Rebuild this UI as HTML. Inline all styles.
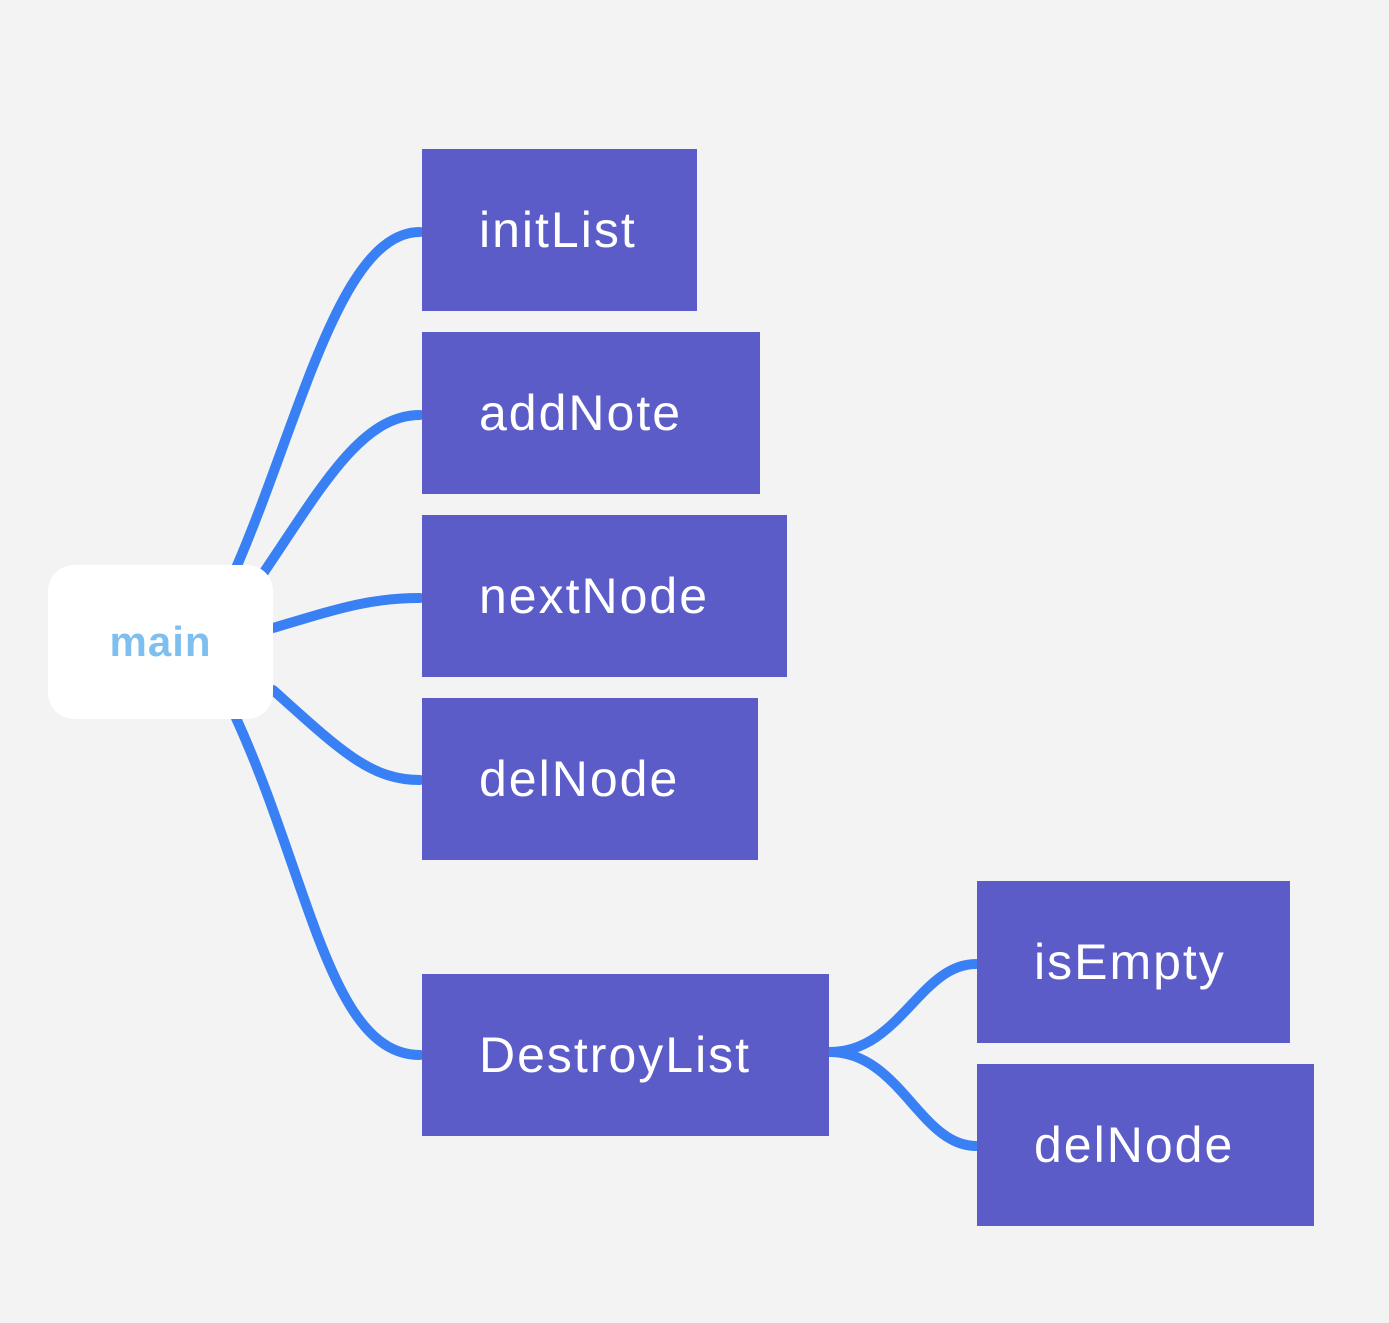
<!DOCTYPE html>
<html><head><style>
body{margin:0;width:1389px;height:1323px;background:#f3f3f3;position:relative;overflow:hidden;font-family:"Liberation Sans",sans-serif}
.b{position:absolute;background:#5c5cc8;color:#fff;font-size:50px;letter-spacing:2px;display:flex;align-items:center;padding-left:57px;box-sizing:border-box}
svg{position:absolute;left:0;top:0}
</style></head><body>
<svg width="1389" height="1323">
<g fill="none" stroke="#3a80f5" stroke-width="10" stroke-linecap="round">
<path d="M236 568 C300 420,340 232,420 232"/>
<path d="M260 578 C320 490,360 415,420 415"/>
<path d="M273 628 C340 608,370 598,420 598"/>
<path d="M273 690 C340 750,370 780,420 780"/>
<path d="M236 718 C310 880,330 1055,420 1055"/>
<path d="M830 1052 C900 1052,920 964,976 964"/>
<path d="M830 1052 C900 1052,920 1146,976 1146"/>
</g>
</svg>
<div style="position:absolute;left:48px;top:565px;width:225px;height:154px;background:#fff;border-radius:26px;display:flex;align-items:center;justify-content:center;color:#7fbff0;font-weight:bold;font-size:42px;letter-spacing:1px">main</div>
<div class="b" style="left:422px;top:149px;width:275px;height:162px">initList</div>
<div class="b" style="left:422px;top:332px;width:338px;height:162px">addNote</div>
<div class="b" style="left:422px;top:515px;width:365px;height:162px">nextNode</div>
<div class="b" style="left:422px;top:698px;width:336px;height:162px">delNode</div>
<div class="b" style="left:422px;top:974px;width:407px;height:162px">DestroyList</div>
<div class="b" style="left:977px;top:881px;width:313px;height:162px">isEmpty</div>
<div class="b" style="left:977px;top:1064px;width:337px;height:162px">delNode</div>
</body></html>
